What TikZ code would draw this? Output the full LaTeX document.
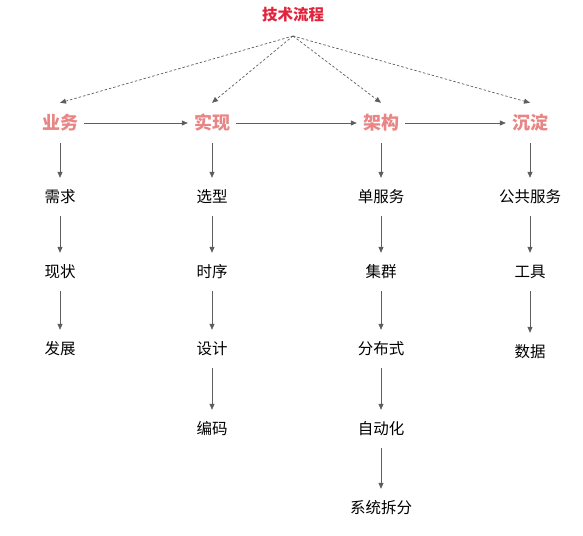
\documentclass[tikz,border=0pt]{standalone}
\usepackage{fontspec}
\setmainfont{Noto Sans CJK SC}
\usepackage{xcolor}
\usetikzlibrary{arrows.meta,positioning}
\definecolor{titlered}{HTML}{E3223B}
\definecolor{pink2}{HTML}{E98585}
\definecolor{arrgray}{HTML}{5E5E5E}

\begin{document}
\begin{tikzpicture}[x=1pt,y=-1pt,
          every node/.style={font=\fontsize{15.5}{18}\selectfont},
          title/.style={font=\fontsize{15.5}{18}\selectfont\bfseries,text=titlered},
          phase/.style={font=\fontsize{18}{20}\selectfont\bfseries,text=pink2,
                        minimum height=40pt,inner xsep=6pt},
          item/.style={minimum height=38pt,inner xsep=4pt},
          arr/.style={-{Triangle[length=6pt,width=5pt]},line width=0.7pt,draw=arrgray},
          darr/.style={arr,dashed,dash pattern=on 2.5pt off 2pt},
      ]
        \useasboundingbox (0,0) rectangle (583,535);
        \node[title] (tech) at (293,15) {技术流程};
        \coordinate (fork) at (293,36);

        \node[phase] (biz) at (60,123) {业务};
        \node[phase] (impl) at (212,123) {实现};
        \node[phase] (arch) at (381,123) {架构};
        \node[phase] (dep) at (530,123) {沉淀};
        \draw[darr] (fork) -- (biz.north);
        \draw[darr] (fork) -- (impl.north);
        \draw[darr] (fork) -- (arch.north);
        \draw[darr] (fork) -- (dep.north);
        \draw[arr] (biz) -- (impl);
        \draw[arr] (impl) -- (arch);
        \draw[arr] (arch) -- (dep);

        % 业务
        \node[item] (req) at (60,197) {需求};
        \node[item] (cur) at (60,272) {现状};
        \node[item] (dev) at (60,349) {发展};
        \draw[arr] (biz) -- (req);
        \draw[arr] (req) -- (cur);
        \draw[arr] (cur) -- (dev);

        % 实现
        \node[item] (sel) at (212,197) {选型};
        \node[item] (seq) at (212,272) {时序};
        \node[item] (des) at (212,349) {设计};
        \node[item] (code) at (212,429) {编码};
        \draw[arr] (impl) -- (sel);
        \draw[arr] (sel) -- (seq);
        \draw[arr] (seq) -- (des);
        \draw[arr] (des) -- (code);

        % 架构
        \node[item] (single) at (381,197) {单服务};
        \node[item] (clu) at (381,272) {集群};
        \node[item] (dist) at (381,349) {分布式};
        \node[item] (auto) at (381,429) {自动化};
        \node[item] (split) at (381,508) {系统拆分};
        \draw[arr] (arch) -- (single);
        \draw[arr] (single) -- (clu);
        \draw[arr] (clu) -- (dist);
        \draw[arr] (dist) -- (auto);
        \draw[arr] (auto) -- (split);

        % 沉淀
        \node[item] (pub) at (530,197) {公共服务};
        \node[item] (tool) at (530,272) {工具};
        \node[item] (data) at (530,352) {数据};
        \draw[arr] (dep) -- (pub);
        \draw[arr] (pub) -- (tool);
        \draw[arr] (tool) -- (data);
      \end{tikzpicture}
\end{document}
